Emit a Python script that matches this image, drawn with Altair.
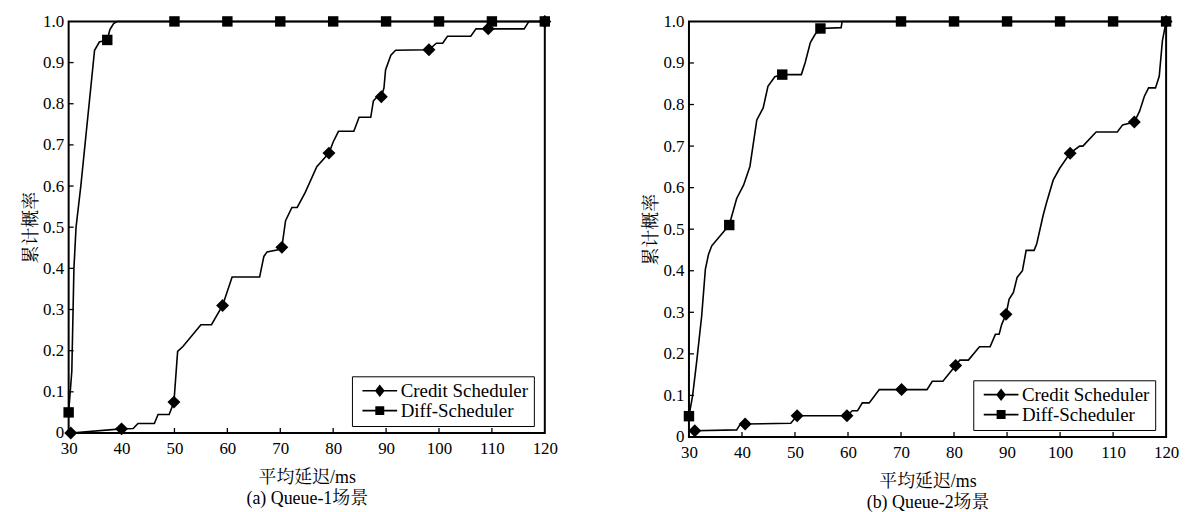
import altair as alt
import pandas as pd

# ---------------- data ----------------
SERIES = ["Credit Scheduler", "Diff-Scheduler"]

# (a) Queue-1
q1_credit_x = [30.4, 40.0, 42.2, 43.1, 46.2, 46.9, 49.0, 49.9, 50.6, 51.6,
               55.0, 57.0, 59.1, 60.9, 66.1, 66.9, 67.5, 69.6, 70.3, 71.0,
               72.2, 73.2, 74.7, 76.9, 79.2, 80.0, 81.0, 83.9, 84.9, 87.1,
               87.6, 88.2, 89.1, 89.6, 89.9, 90.9, 91.8, 98.1, 99.5, 100.7,
               101.6, 106.0, 107.0, 109.3, 116.1, 117.0, 120.0]
q1_credit_y = [0.0, 0.01, 0.011, 0.023, 0.023, 0.045, 0.045, 0.075, 0.198, 0.21,
               0.263, 0.263, 0.31, 0.379, 0.379, 0.429, 0.44, 0.445, 0.451, 0.516,
               0.548, 0.548, 0.584, 0.647, 0.68, 0.707, 0.733, 0.733, 0.767, 0.767,
               0.807, 0.815, 0.817, 0.838, 0.882, 0.918, 0.93, 0.931, 0.947, 0.947,
               0.964, 0.964, 0.982, 0.982, 0.982, 1.0, 1.0]
q1_credit_mx = [30.4, 40.0, 49.9, 59.1, 70.3, 79.2, 89.1, 98.1, 109.3, 120.0]
q1_credit_my = [0.0, 0.01, 0.075, 0.31, 0.451, 0.68, 0.817, 0.931, 0.982, 1.0]

q1_diff_x = [30.0, 30.6, 31.0, 31.4, 32.3, 34.9, 35.8, 37.3, 37.8, 38.5, 39.2,
             50, 60, 70, 80, 90, 100, 110, 120]
q1_diff_y = [0.05, 0.15, 0.4, 0.5, 0.6, 0.93, 0.95, 0.955, 0.98, 0.995, 1.0,
             1, 1, 1, 1, 1, 1, 1, 1]
q1_diff_mx = [30.0, 37.3, 50, 60, 70, 80, 90, 100, 110, 120]
q1_diff_my = [0.05, 0.955, 1, 1, 1, 1, 1, 1, 1, 1]

# (b) Queue-2
q2_credit_x = [31.1, 39.0, 39.6, 40.6, 49.2, 50.4, 59.8, 60.8, 61.8, 62.7,
               64.0, 65.9, 70.1, 74.9, 75.9, 77.9, 80.3, 81.1, 82.7, 84.8,
               86.8, 87.8, 88.5, 89.0, 89.8, 90.4, 91.2, 91.9, 92.9, 93.6,
               95.1, 95.6, 96.8, 97.4, 98.7, 99.9, 101.9, 103.7, 104.3, 106.8,
               110.8, 111.8, 114.0, 115.0, 115.9, 116.7, 118.0, 118.7, 119.3, 120.0]
q2_credit_y = [0.015, 0.017, 0.029, 0.031, 0.033, 0.051, 0.051, 0.063, 0.063, 0.082,
               0.082, 0.114, 0.114, 0.114, 0.134, 0.134, 0.172, 0.185, 0.185, 0.217,
               0.217, 0.247, 0.247, 0.271, 0.295, 0.332, 0.348, 0.384, 0.40, 0.449,
               0.449, 0.465, 0.533, 0.562, 0.618, 0.646, 0.683, 0.70, 0.70, 0.734,
               0.734, 0.751, 0.758, 0.784, 0.82, 0.84, 0.84, 0.868, 0.953, 1.0]
q2_credit_mx = [31.1, 40.6, 50.4, 59.8, 70.1, 80.3, 89.8, 101.9, 114.0, 120.0]
q2_credit_my = [0.015, 0.031, 0.051, 0.051, 0.114, 0.172, 0.295, 0.683, 0.758, 1.0]

q2_diff_x = [30.0, 30.7, 31.5, 32.4, 33.1, 33.7, 34.3, 37.6, 39.0, 40.3,
             41.5, 42.8, 44.0, 44.9, 46.2, 47.6, 51.2, 51.9, 52.9, 53.8,
             54.8, 58.7, 58.9, 70, 80, 90, 100, 110, 120]
q2_diff_y = [0.05, 0.1, 0.186, 0.291, 0.404, 0.44, 0.46, 0.51, 0.574, 0.606,
             0.651, 0.763, 0.792, 0.844, 0.867, 0.872, 0.872, 0.90, 0.949, 0.969,
             0.983, 0.985, 1.0, 1, 1, 1, 1, 1, 1]
q2_diff_mx = [30.0, 37.6, 47.6, 54.8, 70, 80, 90, 100, 110, 120]
q2_diff_my = [0.05, 0.51, 0.872, 0.983, 1, 1, 1, 1, 1, 1]

x_ticks = [30, 40, 50, 60, 70, 80, 90, 100, 110, 120]
y_ticks = [0, 0.1, 0.2, 0.3, 0.4, 0.5, 0.6, 0.7, 0.8, 0.9, 1.0]
x_title = "平均延迟/ms"
y_title = "累计概率"
captions = ["(a) Queue-1场景", "(b) Queue-2场景"]

# ---------------- styling ----------------
LAT = "Liberation Serif"
CJK = "Liberation Serif, Noto Serif CJK SC, Noto Sans CJK SC"
# legend glyphs: a short line (thin filled bar) with the marker on it
LEG_DIAMOND = ("M-0.44,-0.095L3.44,-0.095L3.44,0.095L-0.44,0.095Z"
               "M1.5,-0.7L2.05,0L1.5,0.7L0.95,0Z")
LEG_SQUARE = ("M-0.44,-0.095L3.44,-0.095L3.44,0.095L-0.44,0.095Z"
              "M1.0,-0.5L2.0,-0.5L2.0,0.5L1.0,0.5Z")


def make_df(xs, ys, name):
    return pd.DataFrame({"x": xs, "y": ys, "series": name, "i": list(range(len(xs)))})


def panel(credit, diff, credit_m, diff_m, caption, w, h):
    xs = alt.Scale(domain=[30, 120], nice=False, zero=False)
    ys = alt.Scale(domain=[0, 1], nice=False)
    xax = alt.Axis(values=x_ticks, ticks=False, domain=False, grid=False,
                   labelFont=LAT, labelFontSize=17, labelColor="black", labelPadding=8,
                   titleFont=CJK, titleFontSize=18,
                   titleFontWeight="normal", titleColor="black", titlePadding=12,
                   titleLineHeight=21, labelFlush=False)
    yax = alt.Axis(values=y_ticks, ticks=False, domain=False, grid=False,
                   labelFont=LAT, labelFontSize=17, labelColor="black", labelPadding=5,
                   labelExpr="datum.value == 0 ? '0' : format(datum.value, '.1f')",
                   titleFont=CJK, titleFontSize=18,
                   titleFontWeight="normal", titleColor="black", titlePadding=2,
                   labelFlush=False)

    lines = pd.concat([make_df(*credit, SERIES[0]), make_df(*diff, SERIES[1])])
    mk_c = make_df(*credit_m, SERIES[0])
    mk_d = make_df(*diff_m, SERIES[1])
    mk_all = pd.concat([mk_c, mk_d])

    X = lambda f: alt.X(f, scale=xs, axis=xax, title=[x_title, caption])
    Y = lambda f: alt.Y(f, scale=ys, axis=yax, title=y_title)

    line_layer = alt.Chart(lines).mark_line(color="black", strokeWidth=1.6).encode(
        x=X("x:Q"), y=Y("y:Q"), detail="series:N", order="i:Q")
    dia = alt.Chart(mk_c).mark_point(shape="diamond", filled=True, color="black",
                                     size=170, opacity=1).encode(x=X("x:Q"), y=Y("y:Q"))
    sq = alt.Chart(mk_d).mark_point(shape="square", filled=True, color="black",
                                    size=110, opacity=1).encode(x=X("x:Q"), y=Y("y:Q"))

    legend_layer = alt.Chart(mk_all).mark_point(
        filled=True, color="black").encode(
        x=X("x:Q"), y=Y("y:Q"),
        shape=alt.Shape("series:N",
                        scale=alt.Scale(domain=SERIES, range=[LEG_DIAMOND, LEG_SQUARE]),
                        legend=alt.Legend(
                            title=None, orient="none", legendX=w - 194, legendY=h - 57,
                            strokeColor="black", fillColor="white", padding=5,
                            labelFont=LAT, labelFontSize=19, labelColor="black",
                            labelOffset=25, symbolSize=324, symbolStrokeWidth=0,
                            symbolFillColor="black", symbolStrokeColor="black",
                            symbolOpacity=1, rowPadding=0, labelLimit=300)),
        opacity=alt.value(0),
    )

    ytick_df = pd.DataFrame({"t": y_ticks[1:-1]})
    xtick_df = pd.DataFrame({"t": x_ticks[1:-1]})
    ytick = alt.Chart(ytick_df).mark_rule(color="black", strokeWidth=1.3).encode(
        y=Y("t:Q"), x=alt.value(0), x2=alt.value(5))
    xtick = alt.Chart(xtick_df).mark_rule(color="black", strokeWidth=1.3).encode(
        x=X("t:Q"), y=alt.value(h), y2=alt.value(h - 5))

    return alt.layer(ytick, xtick, line_layer, dia, sq, legend_layer).properties(
        width=w, height=h)


left = panel((q1_credit_x, q1_credit_y), (q1_diff_x, q1_diff_y),
             (q1_credit_mx, q1_credit_my), (q1_diff_mx, q1_diff_my),
             captions[0], 479, 414)
right = panel((q2_credit_x, q2_credit_y), (q2_diff_x, q2_diff_y),
              (q2_credit_mx, q2_credit_my), (q2_diff_mx, q2_diff_my),
              captions[1], 480, 418)

chart = alt.hconcat(left, right, spacing=83).resolve_scale(
    shape="independent").properties(
    padding={"left": 13, "top": 2, "right": 5, "bottom": 0},
    background="white",
).configure_view(stroke="black", strokeWidth=2)

chart.save("out.html", embed_options={"renderer": "svg", "actions": False})
